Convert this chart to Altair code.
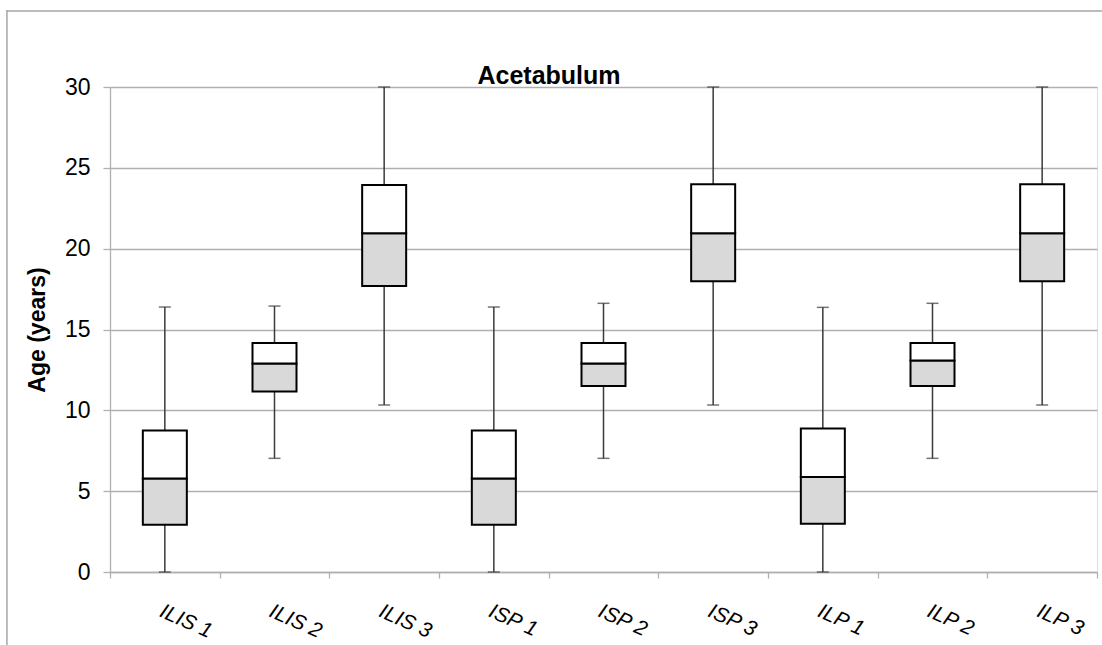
import altair as alt
import pandas as pd

categories = ["ILIS 1", "ILIS 2", "ILIS 3", "ISP 1", "ISP 2", "ISP 3", "ILP 1", "ILP 2", "ILP 3"]
minimum = [0.0, 7.03, 10.33, 0.0, 7.03, 10.33, 0.0, 7.03, 10.33]
q1 = [2.93, 11.16, 17.69, 2.93, 11.51, 17.98, 2.99, 11.51, 17.98]
median = [5.78, 12.89, 20.95, 5.78, 12.89, 20.95, 5.88, 13.09, 20.95]
q3 = [8.76, 14.16, 23.94, 8.76, 14.16, 23.98, 8.87, 14.16, 23.98]
maximum = [16.39, 16.45, 30.0, 16.39, 16.62, 30.0, 16.37, 16.62, 30.0]
y_ticks = [0, 5, 10, 15, 20, 25, 30]
title_text = ["Acetabulum"]

df = pd.DataFrame({"cat": categories, "min": minimum, "q1": q1, "med": median, "q3": q3, "max": maximum})
df_title = pd.DataFrame({"t": title_text})
df_border = pd.DataFrame({"b": [0]})

FONT = "Liberation Sans"
GRID = "#b0b0b0"
BORDER = "#a6a6a6"

x_enc = alt.X(
    "cat:N",
    sort=categories,
    scale=alt.Scale(paddingInner=0, paddingOuter=0),
    axis=alt.Axis(
        title=None,
        tickBand="extent",
        grid=False,
        domainColor=GRID,
        domainWidth=1.3,
        tickColor=GRID,
        tickWidth=1.3,
        tickSize=6,
        labelAngle=24,
        labelAlign="left",
        labelBaseline="top",
        labelFontStyle="italic",
        labelFontSize=21,
        labelFont=FONT,
        labelColor="black",
        labelPadding=22,
    ),
)

y_scale = alt.Scale(domain=[0, 30], nice=False, zero=True)
y_axis = alt.Axis(
    title="Age (years)",
    values=y_ticks,
    grid=True,
    gridColor=GRID,
    gridWidth=1.3,
    domainColor=GRID,
    domainWidth=1.3,
    tickColor=GRID,
    tickWidth=1.3,
    tickSize=7,
    labelFontSize=23,
    labelFont=FONT,
    labelColor="black",
    labelPadding=13,
    titleFont=FONT,
    titleFontSize=23,
    titleFontWeight="bold",
    titleColor="black",
    titleX=-73,
    titleY=242.5,
    titleBaseline="middle",
    titleAlign="center",
)

base = alt.Chart(df)

# chart frame: left and top edges only (right and bottom lie outside the picture)
border_left = alt.Chart(df_border).mark_rect(fill=BORDER, strokeWidth=0).encode(
    x=alt.value(-103.8), x2=alt.value(-102.3), y=alt.value(-76.8), y2=alt.value(560)
)
border_top = alt.Chart(df_border).mark_rule(color=BORDER, strokeWidth=1.5).encode(
    x=alt.value(-103.8), x2=alt.value(992), y=alt.value(-76)
)

whisker = base.mark_rule(color="#3a3a3a", strokeWidth=1.5).encode(
    x=x_enc,
    y=alt.Y("min:Q", scale=y_scale, axis=y_axis),
    y2="max:Q",
)

cap_low = base.mark_tick(color="#3a3a3a", size=12, thickness=1.5).encode(
    x=alt.X("cat:N", sort=categories), y=alt.Y("min:Q")
)
cap_high = base.mark_tick(color="#3a3a3a", size=12, thickness=1.5).encode(
    x=alt.X("cat:N", sort=categories), y=alt.Y("max:Q")
)

lower_box = base.mark_bar(size=44, fill="#d9d9d9", stroke="black", strokeWidth=2).encode(
    x=alt.X("cat:N", sort=categories), y=alt.Y("q1:Q"), y2="med:Q"
)
upper_box = base.mark_bar(size=44, fill="white", stroke="black", strokeWidth=2).encode(
    x=alt.X("cat:N", sort=categories), y=alt.Y("med:Q"), y2="q3:Q"
)

title = alt.Chart(df_title).mark_text(
    font=FONT, fontSize=25, fontWeight="bold", color="black", align="center", baseline="alphabetic"
).encode(text="t:N", x=alt.value(439), y=alt.value(-3))

chart = (
    alt.layer(whisker, cap_low, cap_high, lower_box, upper_box, title, border_top, border_left)
    .properties(
        width=987,
        height=485,
        autosize=alt.AutoSizeParams(type="none"),
        padding={"left": 110, "top": 87, "right": 5, "bottom": 73},
        background="white",
    )
    .configure_view(stroke=None)
    .configure(font=FONT)
)

chart.save("out.html", embed_options={"renderer": "svg", "actions": False})
